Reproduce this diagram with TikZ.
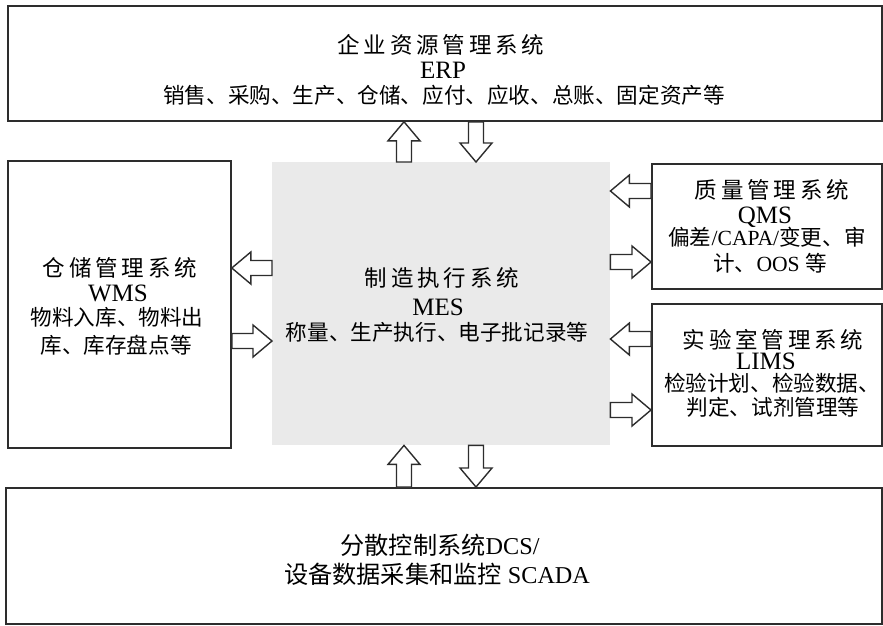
\documentclass[tikz,border=0pt]{standalone}
\usepackage{fontspec}
\setmainfont{Liberation Serif}
\newfontfamily\cjk{Noto Sans CJK SC}
\newfontfamily\cjkT{Noto Sans CJK SC}[LetterSpace=17]
\usetikzlibrary{calc}
\definecolor{mesgray}{RGB}{234,234,234}
\definecolor{linec}{RGB}{45,45,45}
\newcommand\barrow[2]{%
  \coordinate (bH) at ($(#2)!19pt!(#1)$);
  \draw[blk] ($(#1)!7.5pt!90:(#2)$) -- ($(bH)!7.5pt!90:(#2)$) -- ($(bH)!16pt!90:(#2)$) -- (#2)
    -- ($(bH)!16pt!-90:(#2)$) -- ($(bH)!7.5pt!-90:(#2)$) -- ($(#1)!7.5pt!-90:(#2)$) -- cycle;}
\begin{document}
\begin{tikzpicture}[x=1pt,y=-1pt,
  box/.style={draw=linec, line width=1.8pt, inner sep=0pt, anchor=north west},
  blk/.style={draw=linec, line width=1.4pt, fill=white, line join=miter},
  ttl/.style={anchor=base, inner sep=0pt, font=\fontsize{22.5}{26}\selectfont\cjkT},
  txt/.style={anchor=base, inner sep=0pt, font=\fontsize{21.6}{24}\selectfont\cjk},
  dtx/.style={anchor=base, inner sep=0pt, font=\fontsize{24.2}{27}\selectfont\cjk},
  lat/.style={anchor=base, inner sep=0pt, font=\fontsize{25}{28}\selectfont\rmfamily}]
\useasboundingbox (0,0) rectangle (883,625);
\fill[white] (0,0) rectangle (883,625);
% MES shaded area
\node[anchor=north west, fill=mesgray, inner sep=0pt, minimum width=338pt, minimum height=283pt] (mes) at (272,162) {};
% boxes
\node[box, minimum width=874pt, minimum height=115pt] (erp) at (7,5) {};
\node[box, minimum width=223pt, minimum height=287pt] (wms) at (7,160) {};
\node[box, minimum width=230pt, minimum height=125pt] (qms) at (651,163) {};
\node[box, minimum width=230pt, minimum height=142pt] (lims) at (651,303) {};
\node[box, minimum width=876pt, minimum height=136pt] (dcs) at (5,487) {};
% helper coordinates
\coordinate (xu) at (404,0);
\coordinate (xd) at (476,0);
\coordinate (yw1) at (0,268);
\coordinate (yw2) at (0,341);
\coordinate (yq1) at (0,191);
\coordinate (yq2) at (0,262);
\coordinate (yl1) at (0,339);
\coordinate (yl2) at (0,410);
% ERP <-> MES
\coordinate (a1) at (mes.north -| xu); \coordinate (b1) at (erp.south -| xu);
\coordinate (a2) at (erp.south -| xd); \coordinate (b2) at (mes.north -| xd);
\barrow{a1}{b1}
\barrow{a2}{b2}
% WMS <-> MES
\coordinate (a3) at (mes.west |- yw1); \coordinate (b3) at (wms.east |- yw1);
\coordinate (a4) at (wms.east |- yw2); \coordinate (b4) at (mes.west |- yw2);
\barrow{a3}{b3}
\barrow{a4}{b4}
% QMS <-> MES
\coordinate (a5) at (qms.west |- yq1); \coordinate (b5) at (mes.east |- yq1);
\coordinate (a6) at (mes.east |- yq2); \coordinate (b6) at (qms.west |- yq2);
\barrow{a5}{b5}
\barrow{a6}{b6}
% LIMS <-> MES
\coordinate (a7) at (lims.west |- yl1); \coordinate (b7) at (mes.east |- yl1);
\coordinate (a8) at (mes.east |- yl2); \coordinate (b8) at (lims.west |- yl2);
\barrow{a7}{b7}
\barrow{a8}{b8}
% DCS <-> MES
\coordinate (a9) at (dcs.north -| xu); \coordinate (b9) at (mes.south -| xu);
\coordinate (a10) at (mes.south -| xd); \coordinate (b10) at (dcs.north -| xd);
\barrow{a9}{b9}
\barrow{a10}{b10}
% texts
\node[ttl] (erpT) at (441,53) {企业资源管理系统};
\node[lat] (erpL) at (443,78) {ERP};
\node[txt] (erpD) at (444,103) {销售、采购、生产、仓储、应付、应收、总账、固定资产等};
\node[ttl] (mesT) at (442,286) {制造执行系统};
\node[lat] (mesL) at (438,315) {MES};
\node[txt] (mesD) at (437,340) {称量、生产执行、电子批记录等};
\node[ttl] (wmsT) at (120,276) {仓储管理系统};
\node[lat] (wmsL) at (118,301) {WMS};
\node[txt] (wmsD1) at (117,325) {物料入库、物料出};
\node[txt] (wmsD2) at (116,353) {库、库存盘点等};
\node[ttl] (qmsT) at (772,198) {质量管理系统};
\node[lat] (qmsL) at (765,223) {QMS};
\node[txt] (qmsD1) at (767,245) {偏差{\rmfamily/CAPA/}变更、审};
\node[txt] (qmsD2) at (770,271) {计、{\rmfamily OOS }等};
\node[ttl] (limsT) at (773,348) {实验室管理系统};
\node[lat] (limsL) at (766,369) {LIMS};
\node[txt] (limsD1) at (772,391) {检验计划、检验数据、};
\node[txt] (limsD2) at (773,415) {判定、试剂管理等};
\node[dtx] (dcsT1) at (440,554) {分散控制系统{\rmfamily DCS/}};
\node[dtx] (dcsT2) at (437,583) {设备数据采集和监控{\rmfamily\ SCADA}};
\end{tikzpicture}
\end{document}
